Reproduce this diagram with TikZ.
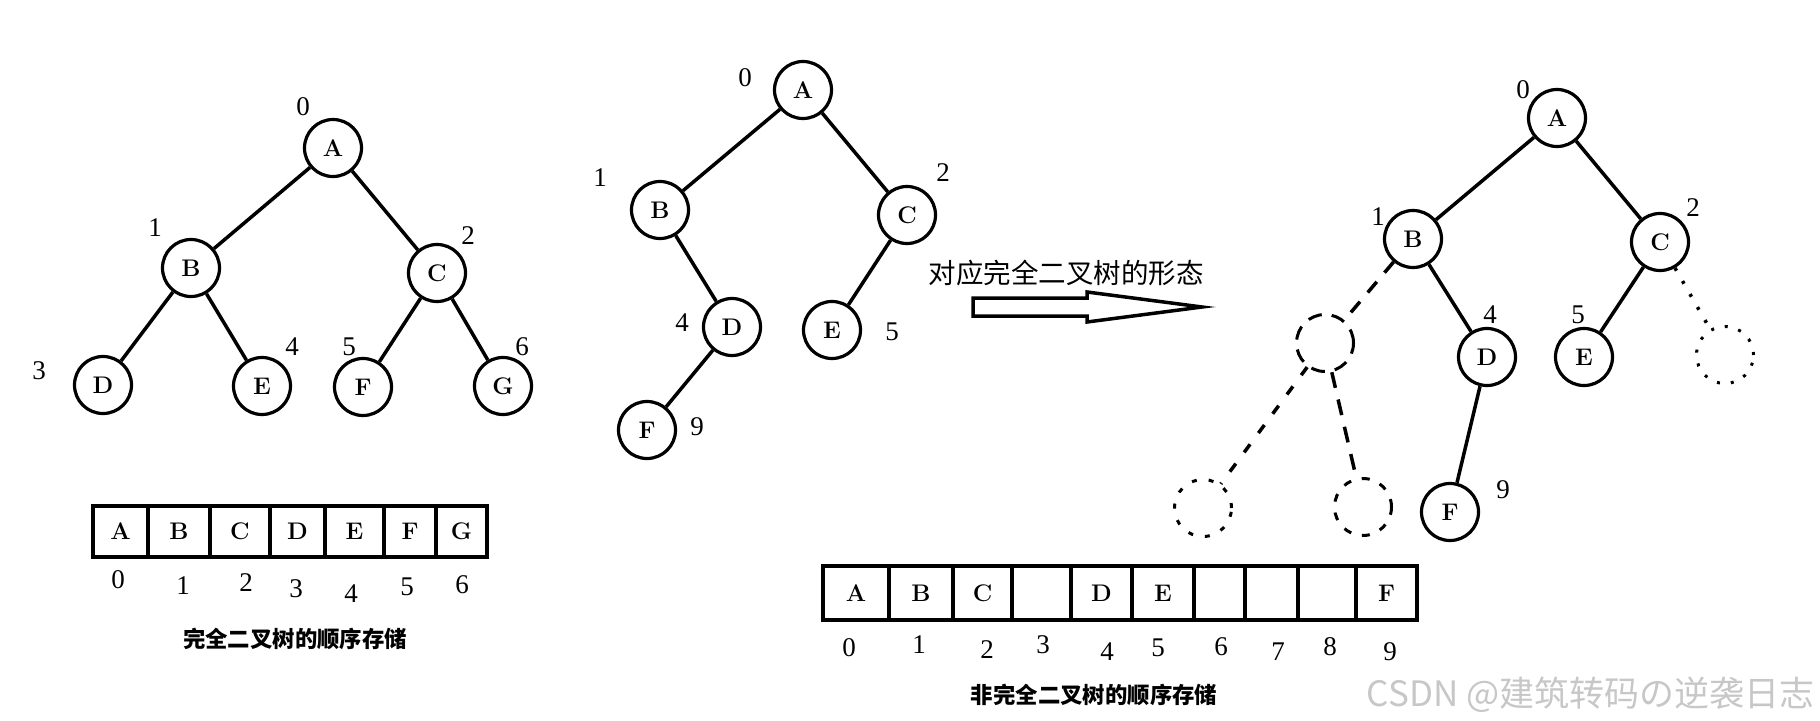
\documentclass[tikz,border=0pt]{standalone}
\usepackage{fontspec}
\newfontfamily\cjk{Noto Sans CJK SC}
\newfontfamily\numfont{Liberation Serif}

\tikzset{
  vtx/.style={circle, draw, line width=3.2pt, minimum size=57, inner sep=0pt,
    font=\fontsize{24}{24}\selectfont\bfseries},
  ghost/.style={circle, draw, line width=3pt, minimum size=57, inner sep=0pt},
  num/.style={inner sep=0pt, font=\numfont\fontsize{27}{27}\selectfont},
  cell/.style={draw, line width=4pt, inner sep=0pt,
    font=\fontsize{24}{24}\selectfont\bfseries},
  link/.style={line width=3.5pt},
  caption/.style={font=\cjk\bfseries\fontsize{22.4}{22.4}\selectfont},
}

\begin{document}
\begin{tikzpicture}[x=1pt, y=-1pt]
\useasboundingbox (0,0) rectangle (1820,720);

% complete tree
\node[vtx] (lA) at (333,148) {A};
\node[vtx] (lB) at (191,268) {B};
\node[vtx] (lC) at (437,273) {C};
\node[vtx] (lD) at (103,385) {D};
\node[vtx] (lE) at (262,386) {E};
\node[vtx] (lF) at (363,387) {F};
\node[vtx] (lG) at (503,386) {G};
\draw[link] (lA) -- (lB);
\draw[link] (lA) -- (lC);
\draw[link] (lB) -- (lD);
\draw[link] (lB) -- (lE);
\draw[link] (lC) -- (lF);
\draw[link] (lC) -- (lG);
\node[num] (li0) at (303,107) {0};
\node[num] (li1) at (155,228) {1};
\node[num] (li2) at (468,236) {2};
\node[num] (li3) at (39,371) {3};
\node[num] (li4) at (292,347) {4};
\node[num] (li5) at (349,347) {5};
\node[num] (li6) at (522,347) {6};

% its array
\foreach \k/\x/\w/\t in {0/120.5/55/A, 1/179/62/B, 2/240/60/C, 3/297.5/55/D,
    4/354.5/59/E, 5/410/52/F, 6/461.5/51/G}
  \node[cell, minimum width=\w, minimum height=51] (lc\k) at (\x,531.5) {\t};
\foreach \k/\x/\y in {0/118/580, 1/183/586, 2/246/583, 3/296/589,
    4/351/594, 5/407/587, 6/462/585}
  \node[num] (lp\k) at (\x,\y) {\k};
\node[caption] (lcap) at (295,639) {完全二叉树的顺序存储};

% incomplete tree
\node[vtx] (mA) at (803,90) {A};
\node[vtx] (mB) at (660,210) {B};
\node[vtx] (mC) at (907,215) {C};
\node[vtx] (mD) at (732,327) {D};
\node[vtx] (mE) at (832,330) {E};
\node[vtx] (mF) at (647,430) {F};
\draw[link] (mA) -- (mB);
\draw[link] (mA) -- (mC);
\draw[link] (mB) -- (mD);
\draw[link] (mC) -- (mE);
\draw[link] (mD) -- (mF);
\node[num] (mi0) at (745,78) {0};
\node[num] (mi1) at (600,178) {1};
\node[num] (mi2) at (943,173) {2};
\node[num] (mi4) at (682,323) {4};
\node[num] (mi5) at (892,332) {5};
\node[num] (mi9) at (697,427) {9};

% hollow arrow
\node[font=\cjk\fontsize{27.5}{27.5}\selectfont] (form) at (1066,273) {对应完全二叉树的形态};
\draw[line width=3.5pt] (973,298) -- (1087,298) -- (1087,292) -- (1202,307)
  -- (1087,322) -- (1087,316) -- (973,316) -- cycle;

% same tree as complete shape
\node[vtx] (rA) at (1557,118) {A};
\node[vtx] (rB) at (1413,239) {B};
\node[vtx] (rC) at (1660,242) {C};
\node[vtx] (rD) at (1487,357) {D};
\node[vtx] (rE) at (1584,357) {E};
\node[vtx] (rF) at (1450,512) {F};
\node[ghost, dash pattern=on 14pt off 10pt] (g3) at (1325,343) {};
\node[ghost, dash pattern=on 3pt off 11pt] (g6) at (1725,355) {};
\node[ghost, dash pattern=on 5pt off 12pt] (g7) at (1203,508) {};
\node[ghost, dash pattern=on 8pt off 11pt] (g8) at (1363,507) {};
\draw[link] (rA) -- (rB);
\draw[link] (rA) -- (rC);
\draw[link] (rB) -- (rD);
\draw[link] (rC) -- (rE);
\draw[link] (rD) -- (rF);
\draw[link, dash pattern=on 14pt off 12pt] (rB) -- (g3);
\draw[link, dash pattern=on 3pt off 12pt] (rC) -- (g6);
\draw[link, dash pattern=on 10pt off 14pt] (g3) -- (g7);
\draw[link, dash pattern=on 16pt off 12pt] (g3) -- (g8);
\node[num] (ri0) at (1523,90) {0};
\node[num] (ri1) at (1378,217) {1};
\node[num] (ri2) at (1693,208) {2};
\node[num] (ri4) at (1490,315) {4};
\node[num] (ri5) at (1578,315) {5};
\node[num] (ri9) at (1503,490) {9};

% its array
\foreach \k/\x/\w/\t in {0/856/66/A, 1/921/64/B, 2/982.5/59/C, 3/1041.5/59/{},
    4/1101.5/61/D, 5/1163/62/E, 6/1219.5/51/{}, 7/1271.5/53/{}, 8/1327/58/{},
    9/1386.5/61/F}
  \node[cell, minimum width=\w, minimum height=54] (rc\k) at (\x,593) {\t};
\foreach \k/\x/\y in {0/849/648, 1/919/645, 2/987/650, 3/1043/645, 4/1107/652,
    5/1158/648, 6/1221/647, 7/1278/652, 8/1330/647, 9/1390/652}
  \node[num] (rp\k) at (\x,\y) {\k};
\node[caption] (rcap) at (1094,695) {非完全二叉树的顺序存储};

\node[anchor=east, text=black!22, font=\cjk\fontsize{35}{35}\selectfont] (mark)
  at (1818,695) {CSDN @建筑转码の逆袭日志};
\end{tikzpicture}
\end{document}
